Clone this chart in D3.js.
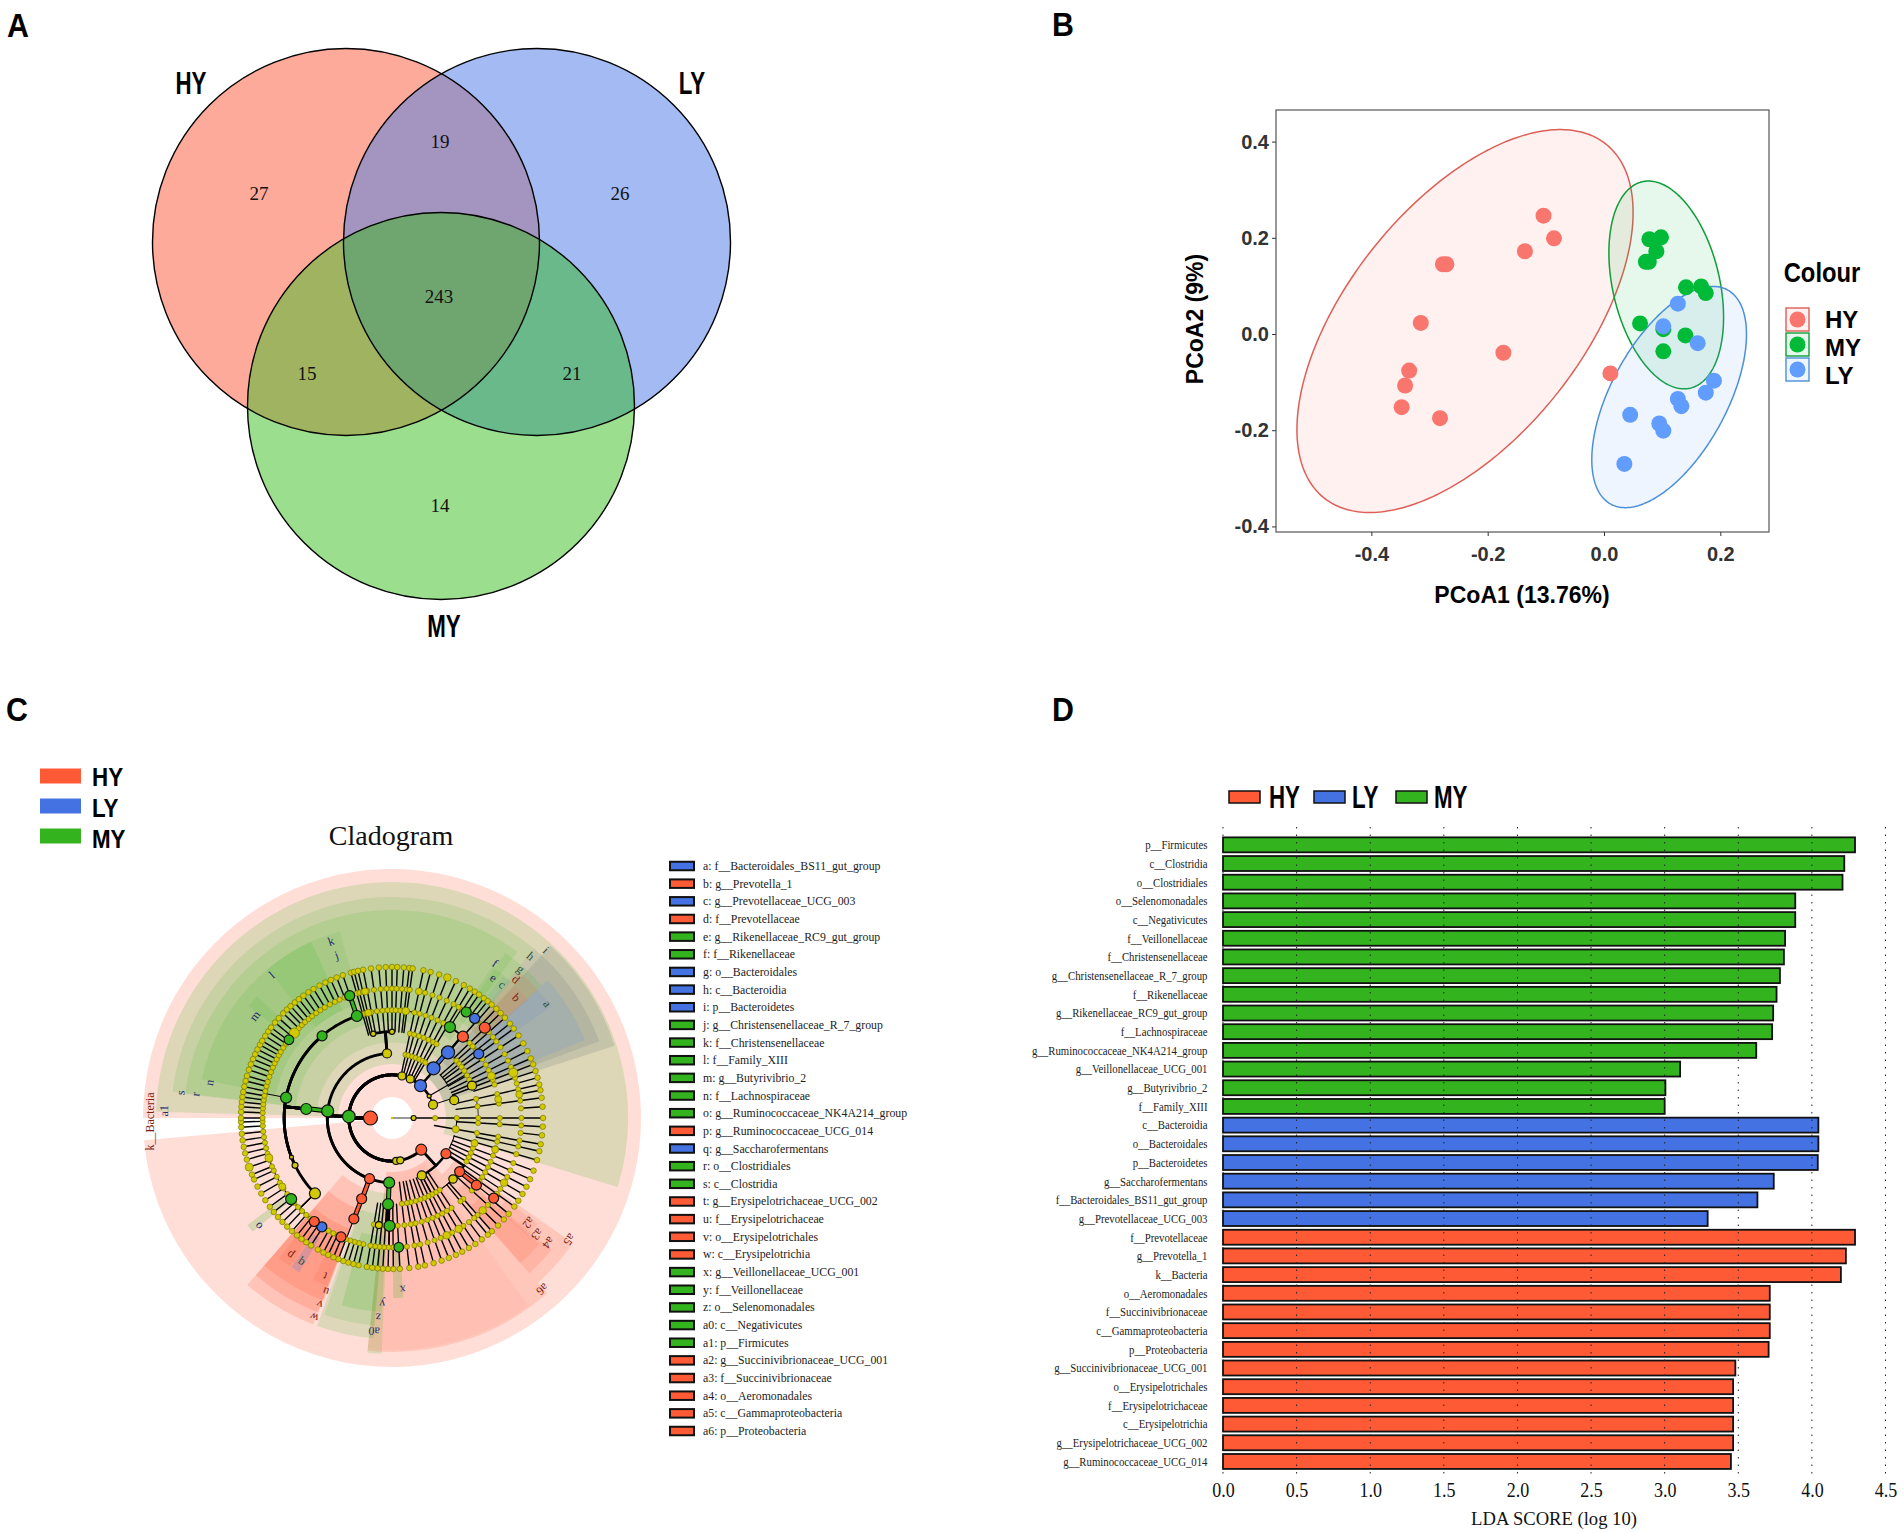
<!DOCTYPE html>
<html><head><meta charset="utf-8">
<script src="https://cdn.jsdelivr.net/npm/d3@7/dist/d3.min.js"></script>
<style>html,body{margin:0;padding:0;background:#fff}svg{display:block}</style>
</head><body><div id="c"></div>
<script>
// ---------- Panel A data ----------
const vennSets = ['HY','LY','MY'];
const vennRegions = [[['HY'],27],[['LY'],26],[['MY'],14],[['HY','LY'],19],[['HY','MY'],15],[['LY','MY'],21],[['HY','LY','MY'],243]];
// ---------- Panel B data: [PCoA1, PCoA2] ----------
const pcoaHY = [[-.104,.246],[-.086,.199],[-.136,.172],[-.277,.145],[-.271,.145],[-.315,.023],[-.173,-.039],[-.335,-.076],[-.342,-.107],[-.348,-.152],[-.282,-.175],[.011,-.082]];
const pcoaMY = [[.078,.197],[.098,.201],[.090,.172],[.072,.150],[.077,.150],[.141,.097],[.167,.099],[.175,.085],[.062,.022],[.102,.010],[.140,-.003],[.102,-.036]];
const pcoaLY = [[.127,.063],[.102,.016],[.161,-.019],[.189,-.097],[.175,-.122],[.127,-.135],[.133,-.150],[.045,-.168],[.095,-.186],[.102,-.201],[.035,-.270]];
// ellipse summaries: centre x, half width, centre y, half height, correlation
const ellipseHY = [-.239,.289,.027,.398,.567];
const ellipseMY = [.107,.0986,.102,.216,-.31];
const ellipseLY = [.112,.133,-.131,.230,.566];
const pcoaXTicks = [-.4,-.2,0,.2];
const pcoaYTicks = [-.4,-.2,0,.2,.4];
const pcoaLegend = ['HY','MY','LY'];
// ---------- Panel C data ----------
const cladeLegend = ['HY','LY','MY'];
const cladeKey = [
 ['a: f__Bacteroidales_BS11_gut_group','B'],['b: g__Prevotella_1','R'],['c: g__Prevotellaceae_UCG_003','B'],['d: f__Prevotellaceae','R'],
 ['e: g__Rikenellaceae_RC9_gut_group','G'],['f: f__Rikenellaceae','G'],['g: o__Bacteroidales','B'],['h: c__Bacteroidia','B'],['i: p__Bacteroidetes','B'],
 ['j: g__Christensenellaceae_R_7_group','G'],['k: f__Christensenellaceae','G'],['l: f__Family_XIII','G'],['m: g__Butyrivibrio_2','G'],['n: f__Lachnospiraceae','G'],
 ['o: g__Ruminococcaceae_NK4A214_group','G'],['p: g__Ruminococcaceae_UCG_014','R'],['q: g__Saccharofermentans','B'],['r: o__Clostridiales','G'],['s: c__Clostridia','G'],
 ['t: g__Erysipelotrichaceae_UCG_002','R'],['u: f__Erysipelotrichaceae','R'],['v: o__Erysipelotrichales','R'],['w: c__Erysipelotrichia','R'],
 ['x: g__Veillonellaceae_UCG_001','G'],['y: f__Veillonellaceae','G'],['z: o__Selenomonadales','G'],['a0: c__Negativicutes','G'],['a1: p__Firmicutes','G'],
 ['a2: g__Succinivibrionaceae_UCG_001','R'],['a3: f__Succinivibrionaceae','R'],['a4: o__Aeromonadales','R'],['a5: c__Gammaproteobacteria','R'],['a6: p__Proteobacteria','R']];
// clade shading: [from angle, to angle, outer extent, taxonomic level, group, strength]
const cladeSectors = [
 [270,624.9,249,0,'R',.2],
 [271.5,435,236,2,'G',.17],[435,467,236,2,'G',.17],
 [276.8,400,221,3,'G',.13],[276.6,397,208,4,'G',.13],
 [281.5,320,194,5,'G',.13],[320,335.4,194,5,'G',.22],[335.4,344.4,194,5,'G',.08],[308,312,182,6,'G',.1],
 [42.6,72,234,2,'S',.28],[40,69.7,221,3,'S',.27],[48.5,68,208,4,'T',.3],
 [34.5,48.5,200,5,'G',.12],[33.5,41,181,6,'G',.1],[41,48.7,194,5,'R',.12],[48.7,55,194,5,'B',.1],[43,49,180,6,'R',.1],[38,41,180,6,'B',.08],
 [138.5,186,234,2,'R',.18],[144,186,232,2,'R',.05],[124.6,138.5,220,3,'R',.18],[129.6,138.5,207,4,'R',.15],[130.5,138.5,194,5,'R',.15],[126,131,180,6,'R',.12],
 [200.9,220.9,221,3,'R',.2],[200.8,220.9,208,4,'R',.2],[200.5,220.9,195,5,'R',.2],[214.5,219,180,6,'R',.15],[211,214,180,6,'B',.2],[201,206,180,6,'R',.15],
 [184.8,199.8,221,3,'G',.16],[185,199,208,4,'G',.12],[183,195,194,5,'G',.16],[182.5,186,236,3,'G',.15],[176.4,179.6,180,5.5,'G',.2],[230.8,233.5,180,5.8,'G',.2]];
// clade letters: [text, angle, distance, group]
const cladeLabels = [['a',53.6,193,'B'],['b',45.9,173,'R'],['c',39.6,173,'B'],['d',41.8,186,'R'],['e',35.9,173,'G'],['f',33.7,186,'G'],['g',40.8,197,'B'],['h',40.6,213,'B'],['i',42.5,228,'B'],
 ['j',341.2,172,'G'],['k',341,187,'G'],['l',320,187,'G'],['m',306.7,171,'G'],['n',281,186,'G'],['o',231,172,'G'],['p',216.6,171,'R'],['q',212.2,171,'B'],['r',276.9,198,'G'],['s',276.8,213,'G'],
 ['t',203,172,'R'],['u',200.9,186,'R'],['v',201.2,200,'R'],['w',201.3,214,'R'],['x',176.4,172,'G'],['y',183,186,'G'],['z',184,200,'G'],['a0',184.8,214,'G'],['a1',271.8,228,'G'],
 ['a2',127.5,172,'R'],['a3',128.7,186,'R'],['a4',128.6,200,'R'],['a5',124.4,215,'R'],['a6',138.7,228,'R']];
// taxa tips by depth of their visible lineage (angles in degrees, clockwise from the top)
const tipsDepth6 = [272.3,274.3,276.1,278,279.9,282,284.2,286.2,288.6,290.8,293,295,297,299,300.7,302.9,305,306.8,309.2,311.4,313.9,315.9,317.8,319.9,321.9,324.1,326.4,328.7,331.3,333.8,336.1,338.5,341,
 33.2,35.2,37.5,39.3,41.3,43.7,74.5,79.4,85.7,96.6,129.4,135.4,143.5,
 192.8,194.8,196.8,198.8,200.8,202.8,205,207,209.4,212.4,214.6,216.8,219,221.5,224,226.5,229,231.5,234,237,240,243,246,248,251,254,256.5,259,261.5,264,266.5,268.5,270];
const tipsDepth5 = [344.2,345.5,347,349,352,355,357.6,0,2,4.5,6.6,7.9,46,71.9,102.7,123.2,125.9,132.2,138.6,140.6,177,179.5,181.5,183.5,185.5,187.5,189.6];
const tipsDepth4 = [48.4,51.3,53.7,56.9,60.4,63.7,66.8,69.2,77.2,82.3,93.3,106.2,110.4,113.9,117.1,120.2,146.5,149.4,152.3,155,157.9,160.8,164,167.4,170,173.4];
const tipsDepth3 = [12,14.8,18.2,21.5,25,28.4,31,100];
const tipsDepth2 = [90];
// lineage rings: [level, from angle, to angle, weight]
const cladeArcs = [[6,212,340,.8],[5,344,372,.8],[3,12,26,.8],[4,48,70,.6],[4,77,93,.6],[4,106,120,.6],[4,146,173,.5],[3,48,60,.8],[3,106,118,.8],[5,123,132,.6],[5,177,190,.8],[3,90,100,.8]];
// named clades: [id, level, angle, group, abundance, parent id, lineage weight]
const cladeNodes = [
 ['root',0,0,'Y',1.2,null,0],['Bac',1,270,'R',7,'root',.8],['Arc',1,90,'Y',2.5,'root',.8],
 ['Fir',2,272,'G',6.3,'Bac',3],['Bct',2,41.4,'B',6,'Bac',3],['Pro',2,137.3,'R',5.5,'Bac',3],['y1',2,13.3,'Y',4,'Bac',3],['y2',2,25,'Y',4,'Bac',3],['y3',2,174.5,'Y',3.5,'Bac',3],['y4',2,169,'Y',3.5,'Bac',3],['y5',2,59.5,'Y',2,'Bac',2.6],['y6',2,72,'Y',4.5,'Bac',1.6],
 ['y7',3,355.6,'Y',4.5,'Fir',2.8],['Cla',3,276.3,'G',6,'Fir',2.8],['Ery',3,200.3,'R',5,'Fir',2.8],['Neg',3,182.5,'G',5.5,'Fir',2.8],['Bca',3,39.9,'B',6.5,'Bct',2.5],['Gam',3,123.5,'R',5,'Pro',2.5],['y8',3,152.6,'Y',4.5,'Pro',2.5],['y9',3,74,'Y',4.5,'y6',1],
 ['Clo',4,276,'G',5.5,'Cla',3],['Erl',4,200.6,'R',5,'Ery',3],['Sel',4,182.6,'G',5.5,'Neg',3],['Bcd',4,40.5,'B',6.5,'Bca',3],['Aer',4,128.4,'R',5,'Gam',2.5],['y10',4,347.4,'Y',2.6,'y7',2.8],['y11',4,0,'Y',2.6,'y7',2.8],['y12',4,135,'Y',4.2,'y8',1.2],['y13',4,68,'Y',4.5,'y5',1.2],
 ['Lac',5,280.9,'G',5.5,'Clo',2.8],['Chr',5,341,'G',5.5,'Clo',2.8],['yR',5,225.6,'Y',5.5,'Clo',2.8],['FXI',5,319.6,'G',5,'Clo',2.8],['y14',5,244,'Y',3,'Clo',2.8],['y15',5,248.7,'Y',2,'Clo',2.8],
 ['Eya',5,200.7,'R',5,'Erl',3],['Vei',5,181.3,'G',5.5,'Sel',2.8],['y16',5,187,'Y',3.5,'Sel',2.8],['Pre',5,41.1,'R',5.5,'Bcd',2],['Rik',5,32.5,'G',5.5,'Bcd',2],['BS1',5,53.5,'B',5,'Bcd',2],['Suc',5,128.5,'R',5,'Aer',3],
 ['But',6,307.2,'G',4.8,'Lac',1],['R7',6,340.9,'G',5,'Chr',3],['NK4',6,231.2,'G',5.5,'yR',1.2],['Sac',6,212.8,'B',5,'yR',1.2],['U14',6,216.9,'R',5,'yR',1.2],['U02',6,203.2,'R',5,'Eya',1.2],['VUC',6,177,'G',4.8,'Vei',1.2],['Pr1',6,45.8,'R',5.5,'Pre',1.2],['RC9',6,35,'G',5,'Rik',1.2],['U03',6,39.7,'B',5,'Pre',1.2],['SUC',6,128.2,'R',5,'Suc',1.2]];
const cladeAccentEdges = ['Clo','Erl','Eya','Sel','Bcd','Suc','R7'];
// enlarged unnamed clades: [level, angle, abundance]
const cladeBigDots = [[6,311,5],[7,251,4],[6,252,4],[6,238,3.6],[6,69.5,4.5],[5,67,4],[5,80,3.5],[6,79.5,3.5],[3,100,3.5],[4,107,3.5],[5,107,3.5],[6,149,3.8],[6,155,3.8],[6,135.5,3.8],[6,120,3.8],[6,348,3.5],[5,347.3,3.5],[5,7.3,3.8],[7,21.5,3.8],[6,12,3.5]];
// ---------- Panel D data ----------
const ldaMYNames = ['p__Firmicutes','c__Clostridia','o__Clostridiales','o__Selenomonadales','c__Negativicutes','f__Veillonellaceae','f__Christensenellaceae','g__Christensenellaceae_R_7_group','f__Rikenellaceae','g__Rikenellaceae_RC9_gut_group','f__Lachnospiraceae','g__Ruminococcaceae_NK4A214_group','g__Veillonellaceae_UCG_001','g__Butyrivibrio_2','f__Family_XIII'];
const ldaMYValues = [4.293,4.22,4.208,3.887,3.887,3.818,3.81,3.783,3.76,3.737,3.73,3.622,3.105,3.005,3.0];
const ldaLYNames = ['c__Bacteroidia','o__Bacteroidales','p__Bacteroidetes','g__Saccharofermentans','f__Bacteroidales_BS11_gut_group','g__Prevotellaceae_UCG_003'];
const ldaLYValues = [4.044,4.044,4.04,3.741,3.63,3.292];
const ldaHYNames = ['f__Prevotellaceae','g__Prevotella_1','k__Bacteria','o__Aeromonadales','f__Succinivibrionaceae','c__Gammaproteobacteria','p__Proteobacteria','g__Succinivibrionaceae_UCG_001','o__Erysipelotrichales','f__Erysipelotrichaceae','c__Erysipelotrichia','g__Erysipelotrichaceae_UCG_002','g__Ruminococcaceae_UCG_014'];
const ldaHYValues = [4.293,4.231,4.197,3.714,3.714,3.714,3.706,3.48,3.465,3.465,3.465,3.465,3.45];
const ldaTicks = [0,.5,1,1.5,2,2.5,3,3.5,4,4.5];
const ldaLegend = ['HY','LY','MY'];

// ---------- drawing ----------
const W=1904,H=1533;
const SANS="'Liberation Sans',Arial,sans-serif", SERIF="'Liberation Serif','Times New Roman',serif";
const svg=d3.select('#c').append('svg').attr('width',W).attr('height',H).attr('viewBox',`0 0 ${W} ${H}`);
svg.append('rect').attr('width',W).attr('height',H).attr('fill','#fff');
const txt=(g,x,y,s,size,fam,opt={})=>{
  const t=g.append('text').text(s).attr('font-size',size).attr('font-family',fam)
  .attr('font-weight',opt.w||'normal').attr('text-anchor',opt.a||'middle').attr('dominant-baseline','central').attr('fill',opt.f||'#000');
  if(opt.sx) t.attr('transform',`translate(${x},${y}) scale(${opt.sx},1)`); else t.attr('x',x).attr('y',y);
  return t;};
[['A',18,26],['B',1063,25],['C',17,710],['D',1063,710]].forEach(d=>txt(svg,d[1],d[2],d[0],33,SANS,{w:'bold',sx:.92}));

// Panel A
(function(){
 const g=svg.append('g'), defs=svg.append('defs');
 const R=193.5, pos={HY:[346,242],LY:[537,242],MY:[441,406]};
 const base={HY:'#fdaa9b',LY:'#a3baf2',MY:'#9ade8e'};
 vennSets.forEach(s=>{defs.append('clipPath').attr('id','clip'+s).append('circle').attr('cx',pos[s][0]).attr('cy',pos[s][1]).attr('r',R);});
 const mix={'HY,LY':'#a494c0','HY,MY':'#9fb360','LY,MY':'#6ab98a','HY,LY,MY':'#6fa56f'};
 vennSets.forEach(s=>g.append('circle').attr('cx',pos[s][0]).attr('cy',pos[s][1]).attr('r',R).attr('fill',base[s]));
 vennRegions.filter(d=>d[0].length>1).forEach(d=>{
   let p=g; d[0].slice(1).forEach(s=>{p=p.append('g').attr('clip-path',`url(#clip${s})`);});
   const s0=d[0][0]; p.append('circle').attr('cx',pos[s0][0]).attr('cy',pos[s0][1]).attr('r',R).attr('fill',mix[d[0].join(',')]);
 });
 vennSets.forEach(s=>g.append('circle').attr('cx',pos[s][0]).attr('cy',pos[s][1]).attr('r',R).attr('fill','none').attr('stroke','#000').attr('stroke-width',1.4));
 const lab={'HY':[259,193],'LY':[620,193],'MY':[440,505.5],'HY,LY':[440,141.5],'HY,MY':[307,373.5],'LY,MY':[572,373.5],'HY,LY,MY':[439,296.5]};
 vennRegions.forEach(d=>{const p=lab[d[0].join(',')];txt(g,p[0],p[1],d[1],19,SERIF,{f:'#111'});});
 [['HY',191,84],['LY',692,84],['MY',444,627]].forEach(d=>txt(g,d[1],d[2],d[0],31,SANS,{w:'bold',sx:.72}));
})();

// Panel B
(function(){
 const g=svg.append('g');
 const xL=1276,xR=1769,yT=110,yB=532;
 const x=d3.scaleLinear([-.564,.2837],[xL,xR]), y=d3.scaleLinear([-.4116,.4657],[yB,yT]);
 const cols={HY:'#F8766D',MY:'#00BA38',LY:'#619CFF'}, line={HY:'#dd5f57',MY:'#0f9d3a',LY:'#4a90d9'};
 const ell=[[ellipseHY,'HY'],[ellipseMY,'MY'],[ellipseLY,'LY']];
 const ts=d3.range(0,2*Math.PI+.02,.02);
 const ln=d3.line();
 ell.forEach(([e,k])=>{
  const pts=ts.map(t=>[x(e[0]+e[1]*Math.cos(t)),y(e[2]+e[3]*(e[4]*Math.cos(t)+Math.sqrt(1-e[4]*e[4])*Math.sin(t)))]);
  g.append('path').attr('d',ln(pts)+'Z').attr('fill',cols[k]).attr('fill-opacity',.1).attr('stroke',line[k]).attr('stroke-width',1.5);
 });
 [[pcoaHY,'HY'],[pcoaMY,'MY'],[pcoaLY,'LY']].forEach(([pts,k])=>g.append('g').selectAll('circle').data(pts).join('circle')
   .attr('cx',d=>x(d[0])).attr('cy',d=>y(d[1])).attr('r',8).attr('fill',cols[k]));
 g.append('rect').attr('x',xL).attr('y',yT).attr('width',xR-xL).attr('height',yB-yT).attr('fill','none').attr('stroke','#555').attr('stroke-width',1.2);
 const fmt=v=>d3.format('.1f')(v).replace('−','-');
 const ax=g.append('g').attr('transform',`translate(0,${yB})`).call(d3.axisBottom(x).tickValues(pcoaXTicks).tickFormat(fmt).tickSize(4));
 const ay=g.append('g').attr('transform',`translate(${xL},0)`).call(d3.axisLeft(y).tickValues(pcoaYTicks).tickFormat(fmt).tickSize(4));
 [ax,ay].forEach(a=>{a.select('.domain').remove();a.selectAll('line').attr('stroke','#333');
   a.selectAll('text').attr('font-family',SANS).attr('font-weight','bold').attr('font-size',20).attr('fill','#333');});
 ax.selectAll('text').attr('dy','1.1em');
 txt(g,1522,595,'PCoA1 (13.76%)',24,SANS,{w:'bold',sx:.96});
 txt(g,0,0,'PCoA2 (9%)',23,SANS,{w:'bold'}).attr('transform','translate(1195,319) rotate(-90)');
 txt(g,1822,272,'Colour',28,SANS,{w:'bold',sx:.85});
 pcoaLegend.forEach((k,i)=>{
  const cy=319.5+i*25;
  g.append('rect').attr('x',1786).attr('y',cy-11.5).attr('width',23).attr('height',23).attr('fill',cols[k]).attr('fill-opacity',.1).attr('stroke',line[k]).attr('stroke-width',1.4);
  g.append('circle').attr('cx',1797.5).attr('cy',cy).attr('r',8).attr('fill',cols[k]);
  txt(g,1825,cy+i*3,k,24,SANS,{w:'bold',a:'start'});
 });
})();

// Panel C
(function(){
 const g=svg.append('g');
 const cx=392,cy=1118;
 const palette={R:'#ff5a36',G:'#33b41e',B:'#4472e2',Y:'#d2ca00',S:'#87958a',T:'#83a0c3'};
 const RL=d3.scaleLinear([0,7],[0,151]);
 const rad=d3.scaleLinear([0,360],[0,2*Math.PI]);
 const P=(lv,a)=>{const r=RL(lv),t=rad(a);return [cx+r*Math.sin(t),cy-r*Math.cos(t)];};
 const arc=d3.arc();
 const secs=g.append('g').attr('transform',`translate(${cx},${cy})`);
 cladeSectors.forEach(s=>secs.append('path').attr('d',arc({innerRadius:s[3]?RL(s[3]+.5):10,outerRadius:s[2],startAngle:rad(s[0]),endAngle:rad(s[1])}))
   .attr('fill',palette[s[4]]).attr('fill-opacity',s[5]));
 g.append('circle').attr('cx',cx).attr('cy',cy).attr('r',21).attr('fill','#fff');
 // rings
 const arcPath=(lv,a0,a1)=>{const n=Math.max(2,Math.ceil(Math.abs(a1-a0)));return d3.line()(d3.range(n+1).map(i=>P(lv,a0+(a1-a0)*i/n)));};
 const lines=g.append('g').attr('fill','none').attr('stroke','#000').attr('stroke-linecap','round');
 cladeArcs.forEach(d=>lines.append('path').attr('d',arcPath(d[0],d[1],d[2])).attr('stroke-width',d[3]*1.3));
 // spokes
 const spokes=[[tipsDepth6,6],[tipsDepth5,5],[tipsDepth4,4],[tipsDepth3,3],[tipsDepth2,2]];
 spokes.forEach(([arr,dp])=>arr.forEach(a=>{
   const from=dp===6?6:dp-1;
   lines.append('path').attr('d',d3.line()([P(from,a),P(7,a)])).attr('stroke-width',1.4);
 }));
 // named clade edges
 const byId=new Map(cladeNodes.map(n=>[n[0],n]));
 const wrap=d=>((d+540)%360)-180;
 cladeNodes.filter(n=>n[5]).forEach(n=>{
   const p=byId.get(n[5]);
   if(p[1]===0) return;
   const a1=p[2]+wrap(n[2]-p[2]);
   const d=d3.line()([P(p[1],p[2]),P(n[1],p[2])])+(Math.abs(a1-p[2])>.01?arcPath(n[1],p[2],a1).replace(/^M/,'L'):'');
   const acc=cladeAccentEdges.includes(n[0]);
   lines.append('path').attr('d',d).attr('stroke-width',acc?5:n[6]);
   if(acc)lines.append('path').attr('d',d).attr('stroke',palette[n[3]]).attr('stroke-width',2.8).attr('stroke-linecap','butt');
 });
 // Archaea lineage, drawn straight from the root
 lines.append('path').attr('d',d3.line()([P(0,90),P(1,90)])).attr('stroke-width',.8);
 // yellow dots
 const dots=g.append('g').attr('stroke','#6a6a00').attr('stroke-width',.6).attr('fill',palette.Y);
 const dot=(lv,a,r)=>{const p=P(lv,a);dots.append('circle').attr('cx',p[0]).attr('cy',p[1]).attr('r',r);};
 spokes.forEach(([arr,dp])=>arr.forEach(a=>{ for(let lv=dp;lv<=7;lv++)dot(lv,a,lv===7?2.8:2.6); }));
 cladeBigDots.forEach(d=>dot(d[0],d[1],d[2]));
 // named clades
 const nodes=g.append('g').attr('stroke','#111').attr('stroke-width',1.2);
 cladeNodes.forEach(n=>{const p=P(n[1],n[2]);nodes.append('circle').attr('cx',p[0]).attr('cy',p[1]).attr('r',n[4]).attr('fill',palette[n[3]])
   .attr('stroke-width',n[3]==='Y'&&n[4]<2?0:1.2);});
 // letters
 const labc={G:'#1c2a6e',R:'#7d1c10',B:'#26513a'};
 cladeLabels.forEach(d=>{const t=rad(d[1]);const x0=cx+d[2]*Math.sin(t),y0=cy-d[2]*Math.cos(t);
  txt(g,0,0,d[0],12,SERIF,{f:labc[d[3]]}).attr('transform',`translate(${x0},${y0}) rotate(${d[1]})`);});
 txt(g,0,0,'k__Bacteria',12,SERIF,{f:'#7d1c10'}).attr('transform','translate(150,1121.5) rotate(-90)');
 txt(g,391,835,'Cladogram',28,SERIF,{f:'#111'});
 // legends
 const lg={HY:'R',LY:'B',MY:'G'};
 cladeLegend.forEach((k,i)=>{const y=776+i*30;
  g.append('rect').attr('x',40).attr('y',y-7.5).attr('width',41).attr('height',15).attr('fill',palette[lg[k]]);
  txt(g,92,[777,808,839][i],k,26,SANS,{w:'bold',a:'start',sx:.86});});
 const ky=d3.scaleLinear([0,cladeKey.length-1],[866,1431]);
 cladeKey.forEach((d,i)=>{
  g.append('rect').attr('x',670).attr('y',ky(i)-4.25).attr('width',24).attr('height',8.5).attr('fill',palette[d[1]]).attr('stroke','#111').attr('stroke-width',2);
  txt(g,703,ky(i),d[0],11.8,SERIF,{a:'start',f:'#222'});
 });
})();

// Panel D
(function(){
 const g=svg.append('g');
 const col={HY:'#ff5a36',LY:'#4472e2',MY:'#33b41e'};
 const rows=[...ldaMYNames.map((n,i)=>[n,ldaMYValues[i],'MY']),...ldaLYNames.map((n,i)=>[n,ldaLYValues[i],'LY']),...ldaHYNames.map((n,i)=>[n,ldaHYValues[i],'HY'])];
 const x=d3.scaleLinear([0,4.5],[1223,1885.5]);
 const y=d3.scaleBand(rows.map(d=>d[0]),[835.5,1470.8]).paddingInner(.2).paddingOuter(.1);
 g.append('g').selectAll('rect').data(rows).join('rect').attr('x',x(0)).attr('y',d=>y(d[0])).attr('width',d=>x(d[1])-x(0)).attr('height',y.bandwidth())
   .attr('fill',d=>col[d[2]]).attr('stroke','#111').attr('stroke-width',1.8);
 g.append('g').selectAll('line').data(ldaTicks).join('line').attr('x1',d=>x(d)).attr('x2',d=>x(d)).attr('y1',827).attr('y2',1478)
   .attr('stroke','#222').attr('stroke-width',1).attr('stroke-dasharray','1.5,6');
 rows.forEach(d=>txt(g,1207.5,y(d[0])+y.bandwidth()/2,d[0],13,SERIF,{a:'end',f:'#222',sx:.83}));
 const ax=g.append('g').attr('transform','translate(0,1478)').call(d3.axisBottom(x).tickValues(ldaTicks).tickFormat(d3.format('.1f')).tickSize(0));
 ax.select('.domain').remove();
 ax.selectAll('text').attr('font-family',SERIF).attr('font-size',20).attr('fill','#111').attr('dy','.8em').attr('transform','scale(.9,1)');
 txt(g,1554,1518,'LDA SCORE (log 10)',18.6,SERIF,{f:'#111'});
 const xs={HY:[1229,1269],LY:[1314,1352],MY:[1396,1434]};
 ldaLegend.forEach(k=>{
  g.append('rect').attr('x',xs[k][0]).attr('y',791).attr('width',31).attr('height',12).attr('fill',col[k]).attr('stroke','#111').attr('stroke-width',1.5);
  txt(g,xs[k][1],798,k,31,SANS,{w:'bold',a:'start',sx:.72});
 });
})();
</script></body></html>
